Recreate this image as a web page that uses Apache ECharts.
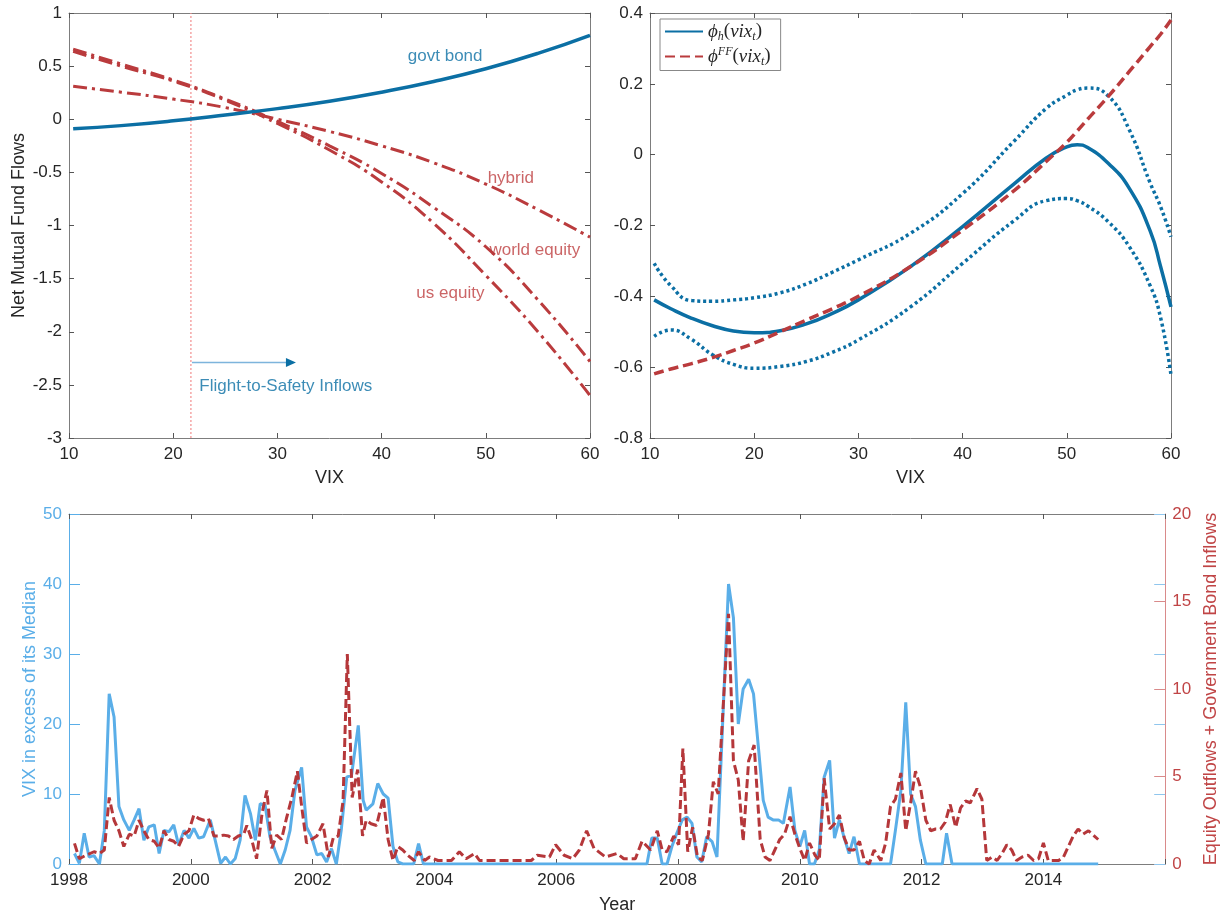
<!DOCTYPE html>
<html>
<head>
<meta charset="utf-8">
<script src="https://cdn.jsdelivr.net/npm/echarts@6/dist/echarts.min.js"></script>
<style>
html,body{margin:0;padding:0;background:#fff;}
#chart{width:1228px;height:915px;}
</style>
</head>
<body>
<div id="chart"></div>
<script>
// ---------- Top-left panel: fund flows vs VIX ----------
const flowVix     = [10.4, 15, 20, 25, 30, 35, 40, 45, 50, 55, 60];
const govtBond    = [-0.09, -0.06, -0.015, 0.04, 0.10, 0.17, 0.255, 0.355, 0.475, 0.62, 0.79];
const hybrid      = [0.31, 0.255, 0.19, 0.11, 0.0, -0.115, -0.25, -0.41, -0.61, -0.85, -1.11];
const worldEquity = [0.66, 0.52, 0.37, 0.19, -0.02, -0.25, -0.51, -0.83, -1.2, -1.70, -2.28];
const usEquity    = [0.64, 0.50, 0.36, 0.18, -0.04, -0.29, -0.59, -0.98, -1.47, -2.0, -2.60];
const safetyVix   = 21.7;              // vertical marker (VIX where govt bond flows turn positive)
const arrowVix    = [21.8, 31.3];      // Flight-to-Safety arrow, from/to
const arrowLevel  = -2.29;

// ---------- Top-right panel: phi functions ----------
const phiVix   = [10.4, 12, 14, 16, 18, 20, 22.5, 25, 27.5, 30, 35, 40, 45, 48, 50, 51, 52, 54, 56, 58, 59, 60];
const phiH     = [-0.41,-0.435,-0.462,-0.483,-0.498,-0.503,-0.497,-0.478,-0.448,-0.41,-0.316,-0.203,-0.081,-0.01,0.022,0.028,0.02,-0.025,-0.095,-0.215,-0.316,-0.43];
const phiUpper = [-0.307,-0.37,-0.412,-0.414,-0.41,-0.404,-0.39,-0.365,-0.332,-0.297,-0.222,-0.11,0.04,0.13,0.168,0.183,0.188,0.165,0.07,-0.08,-0.147,-0.232];
const phiLower = [-0.513,-0.495,-0.522,-0.565,-0.592,-0.603,-0.598,-0.584,-0.558,-0.523,-0.43,-0.307,-0.185,-0.13,-0.124,-0.13,-0.145,-0.19,-0.26,-0.37,-0.46,-0.622];
const phiFF    = [-0.619,-0.605,-0.59,-0.573,-0.553,-0.532,-0.5,-0.467,-0.435,-0.40,-0.316,-0.213,-0.1,-0.02,0.035,0.067,0.10,0.165,0.235,0.305,0.34,0.38];

// ---------- Bottom panel: time series ----------
const vixYears = [
 1998.09,1998.17,1998.25,1998.33,1998.41,1998.50,1998.58,1998.66,1998.74,1998.82,1998.90,1998.99,
 1999.07,1999.15,1999.23,1999.31,1999.40,1999.48,1999.56,1999.64,1999.72,1999.80,1999.89,1999.97,
 2000.05,2000.13,2000.21,2000.32,2000.40,2000.49,2000.57,2000.65,2000.73,2000.81,2000.89,2000.98,
 2001.06,2001.14,2001.22,2001.30,2001.38,2001.47,2001.55,2001.63,2001.71,2001.82,2001.90,2001.98,
 2002.07,2002.15,2002.23,2002.31,2002.39,2002.47,2002.56,2002.64,2002.75,2002.83,2002.88,2002.99,
 2003.07,2003.16,2003.24,2003.32,2003.40,2003.48,2003.66,2003.74,2003.82,
 2007.49,2007.57,2007.66,2007.74,2007.82,2007.90,2007.98,
 2008.07,2008.15,2008.23,2008.31,2008.39,2008.47,2008.56,2008.64,2008.83,2008.91,2008.99,
 2009.07,2009.16,2009.24,2009.32,2009.40,2009.48,2009.56,2009.65,2009.73,2009.84,2009.92,
 2010.00,2010.08,2010.16,2010.24,2010.32,2010.40,2010.49,2010.57,2010.65,2010.73,2010.81,2010.89,2010.98,
 2011.49,2011.57,2011.66,2011.74,2011.82,2011.90,2011.98,
 2012.07,2012.34,2012.41,2012.50,2014.90];
const vixValues = [
 1.5,0.1,4.4,1.0,1.2,0,4.8,24.3,21.0,8.2,6.3,4.8,
 6.3,7.9,3.4,5.3,5.6,1.5,4.8,4.6,5.6,2.7,4.8,3.7,
 5.1,3.7,3.9,6.3,3.4,0.1,1.0,0,0.8,3.4,9.8,7.2,
 3.4,8.6,8.4,3.9,2.0,0,2.0,4.8,10.5,13.8,5.3,3.9,
 1.3,1.5,0.3,2.2,0,4.8,12.4,12.7,19.8,9.1,7.7,8.6,
 11.5,10.0,9.4,2.5,0.3,0,0,2.9,0,
 0,3.7,3.7,0,0,2.5,4.4,
 6.3,6.7,5.8,1.0,0.3,3.9,3.2,1.0,40.0,35.2,20.0,
 25.0,26.4,24.3,16.7,9.1,6.7,6.3,6.3,5.8,11.0,4.8,
 2.5,4.8,0,0,2.0,12.4,14.8,3.7,6.3,3.7,1.5,3.9,0,
 0,4.8,10.5,23.1,10.0,8.2,3.4,
 0,0,4.4,0,0];

const flowYears = [
 1998.09,1998.17,1998.28,1998.41,1998.50,1998.58,1998.66,1998.74,1998.82,1998.90,1998.99,
 1999.07,1999.15,1999.23,1999.31,1999.40,1999.48,1999.56,1999.64,1999.72,1999.80,1999.89,1999.97,
 2000.05,2000.13,2000.21,2000.29,2000.38,2000.46,2000.54,2000.62,2000.70,2000.78,2000.87,2000.92,
 2001.00,2001.08,2001.17,2001.25,2001.33,2001.41,2001.49,2001.57,2001.66,2001.75,2001.82,2001.90,2001.98,
 2002.07,2002.17,2002.26,2002.34,2002.42,2002.50,2002.57,2002.65,2002.74,2002.82,2002.88,2002.96,
 2003.05,2003.16,2003.24,2003.32,2003.40,2003.48,2003.56,2003.67,2003.74,2003.84,2003.92,
 2004.06,2004.28,2004.41,2004.52,2004.66,2004.74,2005.59,2005.69,2005.89,2005.99,
 2006.13,2006.27,2006.38,2006.50,2006.62,2006.81,2007.00,2007.11,2007.30,2007.41,2007.55,2007.66,2007.74,2007.82,2007.93,
 2008.01,2008.08,2008.16,2008.24,2008.32,2008.40,2008.50,2008.58,2008.66,2008.75,2008.83,2008.91,2008.99,
 2009.07,2009.16,2009.25,2009.35,2009.43,2009.51,2009.59,2009.67,2009.75,2009.84,2009.92,
 2010.00,2010.08,2010.16,2010.25,2010.32,2010.40,2010.49,2010.57,2010.65,2010.73,2010.81,2010.89,2010.98,
 2011.06,2011.14,2011.22,2011.33,2011.41,2011.49,2011.57,2011.66,2011.74,2011.82,2011.90,2011.98,
 2012.07,2012.15,2012.23,2012.31,2012.39,2012.47,2012.56,2012.64,2012.72,2012.80,2012.91,2012.99,
 2013.07,2013.16,2013.24,2013.32,2013.40,2013.48,2013.56,2013.65,2013.75,2013.84,2013.92,
 2014.00,2014.08,2014.25,2014.33,2014.41,2014.49,2014.57,2014.65,2014.74,2014.82,2014.90];
const flowValues = [
 1.18,0.3,0.5,0.7,0.6,0.8,3.8,2.5,1.9,1.0,1.7,
 1.6,2.5,1.9,1.4,1.3,0.9,1.9,1.4,1.3,1.0,1.7,1.9,
 2.8,2.6,2.5,2.6,1.6,1.6,1.65,1.6,1.4,1.6,1.7,2.2,
 1.4,0.3,2.9,4.2,0.9,1.65,1.4,2.6,3.8,5.3,3.3,1.2,1.4,
 1.6,2.3,0.4,1.5,1.6,3.6,12.0,3.8,5.4,1.6,2.5,2.3,
 2.2,3.8,1.4,0.2,1.0,0.8,0.5,0.2,0.7,0.2,0.4,
 0.2,0.2,0.7,0.3,0.6,0.2,0.2,0.5,0.4,1.1,
 0.5,0.3,0.8,1.9,0.9,0.4,0.6,0.3,0.3,1.3,0.8,1.9,0.8,0.7,1.6,
 1.1,6.6,0.7,2.1,0.4,0.2,1.7,4.7,4.0,9.5,14.3,5.9,4.8,
 1.3,5.9,6.8,1.4,0.4,0.2,0.8,1.4,1.7,2.7,1.7,
 0.9,0.2,1.2,0.5,0.2,4.9,2.0,2.3,2.8,1.5,0.8,0.8,1.3,
 0.2,0,0.8,0.2,1.2,3.3,3.7,5.2,1.9,3.5,5.3,4.4,
 2.5,1.9,2.0,2.0,2.4,3.4,2.1,3.2,3.6,3.5,4.3,3.7,
 0.2,0.4,0.2,0.6,1.1,0.8,0.2,0.4,0.5,0.2,0.3,
 1.2,0.2,0.2,0.4,1.0,1.6,2.0,1.7,1.9,1.65,1.4];

const topLeftTicks = [-3, 1, 0.5];
const topRightTicks = [-0.8, 0.4, 0.2];

const DARK_BLUE = '#0B6FA4';
const RED = '#BA3B3D';
const LABEL_RED = '#BE3E40';
const LIGHT_BLUE = '#5AAEE8';
const AX = '#7d7d7d';
const TXT = '#262626';
const FONT = 'Liberation Sans';

function zip(a, b) { return a.map((v, i) => [v, b[i]]); }
function fmt1(v) { const r = Math.round(v * 10) / 10; return r === 0 ? '0' : String(r); }

function boxAxis(base) {
  return Object.assign({
    axisLine: { show: true, onZero: false, lineStyle: { color: AX, width: 1 } },
    axisTick: { show: true, inside: true, length: 5, lineStyle: { color: '#555', width: 1 } },
    splitLine: { show: false },
    axisLabel: { show: false }
  }, base);
}
const labelStyle = { show: true, color: TXT, fontFamily: FONT, fontSize: 17 };

const chart = echarts.init(document.getElementById('chart'));
const dashDot = [14, 5, 3, 5];

const option = {
  animation: false,
  backgroundColor: '#fff',
  grid: [
    { left: 69, top: 13, width: 521, height: 425 },
    { left: 650, top: 13, width: 521, height: 425 },
    { left: 69, top: 514, width: 1102, height: 350 }
  ],
  legend: {
    show: true,
    data: ['phi_h', 'phi_FF'],
    orient: 'vertical',
    left: 660, top: 19,
    backgroundColor: '#fff',
    borderColor: '#888', borderWidth: 1,
    padding: [3, 10, 3, 4],
    itemWidth: 38, itemHeight: 12, itemGap: 3,
    itemStyle: { opacity: 0 },
    formatter: function (name) {
      return name === 'phi_h'
        ? '{i|ϕ}{s|h}{n|(}{i|vix}{s|t}{n|)}'
        : '{i|ϕ}{p|FF}{n|(}{i|vix}{s|t}{n|)}';
    },
    textStyle: {
      fontFamily: 'Liberation Serif', fontSize: 18, color: TXT,
      rich: {
        i: { fontFamily: 'Liberation Serif', fontStyle: 'italic', fontSize: 19, color: TXT, lineHeight: 22 },
        n: { fontFamily: 'Liberation Serif', fontSize: 19, color: TXT, lineHeight: 22 },
        s: { fontFamily: 'Liberation Serif', fontStyle: 'italic', fontSize: 12, color: TXT, lineHeight: 22, verticalAlign: 'bottom' },
        p: { fontFamily: 'Liberation Serif', fontStyle: 'italic', fontSize: 12, color: TXT, lineHeight: 22, verticalAlign: 'top' }
      }
    }
  },
  xAxis: [
    boxAxis({ gridIndex: 0, type: 'value', position: 'bottom', min: 10, max: 60, interval: 10,
      axisLabel: Object.assign({ margin: 8 }, labelStyle),
      name: 'VIX', nameLocation: 'middle', nameGap: 31,
      nameTextStyle: { color: TXT, fontFamily: FONT, fontSize: 18 } }),
    boxAxis({ gridIndex: 0, type: 'value', position: 'top', min: 10, max: 60, interval: 10 }),
    boxAxis({ gridIndex: 1, type: 'value', position: 'bottom', min: 10, max: 60, interval: 10,
      axisLabel: Object.assign({ margin: 8 }, labelStyle),
      name: 'VIX', nameLocation: 'middle', nameGap: 31,
      nameTextStyle: { color: TXT, fontFamily: FONT, fontSize: 18 } }),
    boxAxis({ gridIndex: 1, type: 'value', position: 'top', min: 10, max: 60, interval: 10 }),
    boxAxis({ gridIndex: 2, type: 'value', position: 'bottom', min: 1998, max: 2016, interval: 2,
      axisLabel: Object.assign({ margin: 8, formatter: v => (v >= 2016 ? '' : String(v)) }, labelStyle),
      name: 'Year', nameLocation: 'middle', nameGap: 32,
      nameTextStyle: { color: TXT, fontFamily: FONT, fontSize: 18 } }),
    boxAxis({ gridIndex: 2, type: 'value', position: 'top', min: 1998, max: 2016, interval: 2 })
  ],
  yAxis: [
    boxAxis({ gridIndex: 0, type: 'value', position: 'left', min: topLeftTicks[0], max: topLeftTicks[1], interval: topLeftTicks[2],
      axisLabel: Object.assign({ margin: 7, formatter: fmt1 }, labelStyle),
      name: 'Net Mutual Fund Flows', nameLocation: 'middle', nameGap: 41,
      nameTextStyle: { color: TXT, fontFamily: FONT, fontSize: 18 } }),
    boxAxis({ gridIndex: 0, type: 'value', position: 'right', min: topLeftTicks[0], max: topLeftTicks[1], interval: topLeftTicks[2] }),
    boxAxis({ gridIndex: 1, type: 'value', position: 'left', min: topRightTicks[0], max: topRightTicks[1], interval: topRightTicks[2],
      axisLabel: Object.assign({ margin: 7, formatter: fmt1 }, labelStyle) }),
    boxAxis({ gridIndex: 1, type: 'value', position: 'right', min: topRightTicks[0], max: topRightTicks[1], interval: topRightTicks[2] }),
    boxAxis({ gridIndex: 2, type: 'value', position: 'left', min: 0, max: 50, interval: 10,
      axisLine: { show: true, onZero: false, lineStyle: { color: LIGHT_BLUE, width: 1 } },
      axisTick: { show: true, inside: true, length: 11, lineStyle: { color: LIGHT_BLUE, width: 1 } },
      axisLabel: { show: true, margin: 7, color: LIGHT_BLUE, fontFamily: FONT, fontSize: 17 },
      name: 'VIX in excess of its Median', nameLocation: 'middle', nameGap: 30, nameMoveOverlap: false,
      nameTextStyle: { color: LIGHT_BLUE, fontFamily: FONT, fontSize: 18 } }),
    boxAxis({ gridIndex: 2, type: 'value', position: 'right', min: 0, max: 20, interval: 5,
      axisLine: { show: true, onZero: false, lineStyle: { color: '#D98A8A', width: 1 } },
      axisTick: { show: true, inside: true, length: 11, lineStyle: { color: '#D98A8A', width: 1 } },
      axisLabel: { show: true, margin: 7, color: '#C04546', fontFamily: FONT, fontSize: 17 },
      name: 'Equity Outflows + Government Bond Inflows', nameLocation: 'middle', nameGap: 30,
      nameTextStyle: { color: '#C04546', fontFamily: FONT, fontSize: 18 } }),
    boxAxis({ gridIndex: 2, type: 'value', position: 'right', min: 0, max: 50, interval: 10,
      axisLine: { show: false },
      axisTick: { show: true, inside: true, length: 11, lineStyle: { color: '#8FC6EE', width: 1 } } })
  ],
  series: [
    // top-left: vertical marker
    { name: 'marker', type: 'line', xAxisIndex: 0, yAxisIndex: 0, silent: true,
      data: [[safetyVix, topLeftTicks[0]], [safetyVix, topLeftTicks[1]]],
      symbol: 'none', lineStyle: { color: '#F28E8E', width: 1.2, type: [2, 2] } },
    // top-left: arrow
    { name: 'arrow', type: 'line', xAxisIndex: 0, yAxisIndex: 0, silent: true,
      data: [[arrowVix[0], arrowLevel], [arrowVix[1], arrowLevel]],
      symbol: 'none', lineStyle: { color: '#7DB4DC', width: 1.5 },
      markPoint: { silent: true, symbol: 'triangle', symbolSize: [9, 10], symbolRotate: -90,
        itemStyle: { color: DARK_BLUE }, label: { show: false },
        data: [ { coord: [arrowVix[1], arrowLevel] } ] } },
    { name: 'us equity', type: 'line', xAxisIndex: 0, yAxisIndex: 0, data: zip(flowVix, usEquity),
      smooth: true, symbol: 'none', lineStyle: { color: RED, width: 3, type: dashDot } },
    { name: 'world equity', type: 'line', xAxisIndex: 0, yAxisIndex: 0, data: zip(flowVix, worldEquity),
      smooth: true, symbol: 'none', lineStyle: { color: RED, width: 3, type: dashDot } },
    { name: 'hybrid', type: 'line', xAxisIndex: 0, yAxisIndex: 0, data: zip(flowVix, hybrid),
      smooth: true, symbol: 'none', lineStyle: { color: RED, width: 3, type: dashDot } },
    { name: 'govt bond', type: 'line', xAxisIndex: 0, yAxisIndex: 0, data: zip(flowVix, govtBond),
      smooth: true, symbol: 'none', lineStyle: { color: DARK_BLUE, width: 3.5, type: 'solid' } },
    { name: 'labels', type: 'scatter', xAxisIndex: 0, yAxisIndex: 0, silent: true,
      symbolSize: 1, itemStyle: { color: 'rgba(0,0,0,0)' },
      data: [
        { value: [46.1, 0.59], name: 'govt bond', label: { color: DARK_BLUE } },
        { value: [52.4, -0.56], name: 'hybrid', label: { color: LABEL_RED } },
        { value: [54.7, -1.23], name: 'world equity', label: { color: LABEL_RED } },
        { value: [46.6, -1.64], name: 'us equity', label: { color: LABEL_RED } },
        { value: [30.8, -2.51], name: 'Flight-to-Safety Inflows', label: { color: DARK_BLUE } }
      ],
      label: { show: true, position: 'inside', formatter: p => p.name, fontFamily: FONT, fontSize: 17 } },
    // top-right
    { name: 'upper', type: 'line', xAxisIndex: 2, yAxisIndex: 2, data: zip(phiVix, phiUpper),
      smooth: true, symbol: 'none', lineStyle: { color: DARK_BLUE, width: 3.5, type: [3, 3] } },
    { name: 'lower', type: 'line', xAxisIndex: 2, yAxisIndex: 2, data: zip(phiVix, phiLower),
      smooth: true, symbol: 'none', lineStyle: { color: DARK_BLUE, width: 3.5, type: [3, 3] } },
    { name: 'phi_h', type: 'line', xAxisIndex: 2, yAxisIndex: 2, data: zip(phiVix, phiH),
      smooth: true, symbol: 'none', itemStyle: { color: DARK_BLUE },
      lineStyle: { color: DARK_BLUE, width: 3.5, type: 'solid' } },
    { name: 'phi_FF', type: 'line', xAxisIndex: 2, yAxisIndex: 2, data: zip(phiVix, phiFF),
      smooth: true, symbol: 'none', itemStyle: { color: RED },
      lineStyle: { color: RED, width: 3.5, type: [10, 5] } },
    // bottom
    { name: 'vix', type: 'line', xAxisIndex: 4, yAxisIndex: 4, data: zip(vixYears, vixValues),
      symbol: 'none', lineStyle: { color: LIGHT_BLUE, width: 3 } },
    { name: 'flows', type: 'line', xAxisIndex: 4, yAxisIndex: 5, data: zip(flowYears, flowValues),
      symbol: 'none', lineStyle: { color: '#B5373A', width: 3, type: [9, 4] } }
  ]
};
chart.setOption(option);
</script>
</body>
</html>
